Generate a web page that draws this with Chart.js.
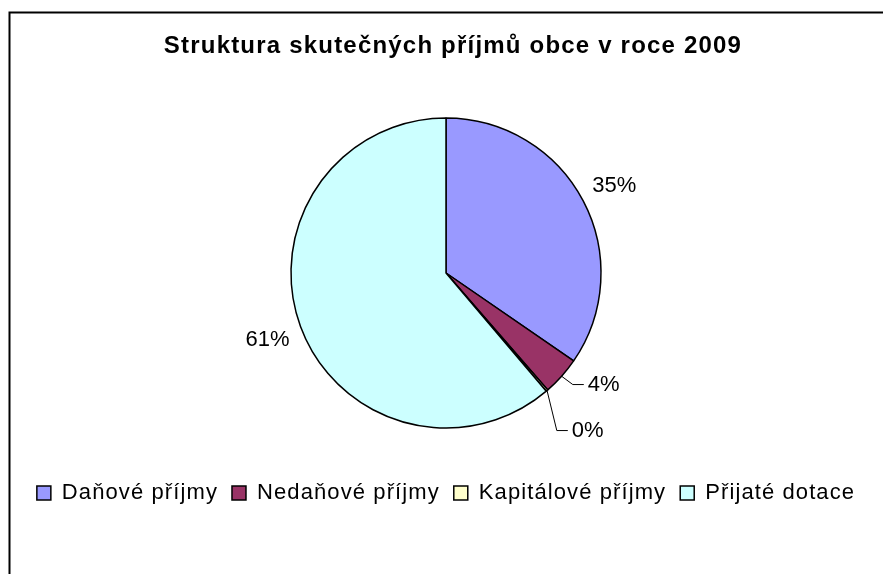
<!DOCTYPE html>
<html>
<head>
<meta charset="utf-8">
<script src="https://cdn.jsdelivr.net/npm/chart.js@4/dist/chart.umd.min.js"></script>
<style>
html,body{margin:0;padding:0;background:#fff;}
canvas{display:block;}
</style>
</head>
<body>
<canvas id="c" width="883" height="574"></canvas>
<script>
const chartTitle = 'Struktura skutečných příjmů obce v roce 2009';
const categories = ['Daňové příjmy', 'Nedaňové příjmy', 'Kapitálové příjmy', 'Přijaté dotace'];
const shares = [34.6, 4.0, 0.2, 61.2];

const FONT = '"Liberation Sans", Arial, sans-serif';

const spacingPlugin = {
  id: 'spacing',
  afterInit(chart) {
    const wrap = (box, sp, dx) => {
      if (!box || box.__wrapped) return;
      box.__wrapped = true;
      ['fit', 'draw'].forEach(m => {
        if (typeof box[m] !== 'function') return;
        const orig = box[m].bind(box);
        box[m] = function (...a) {
          const c = chart.ctx;
          c.save();
          c.letterSpacing = sp;
          if (m === 'draw' && dx) c.translate(dx, 0);
          try { return orig(...a); } finally { c.restore(); c.letterSpacing = '0px'; }
        };
      });
    };
    wrap(chart.legend, '1.1px', 0);
    wrap(chart.titleBlock, '1.2px', 7);
  }
};

const labelPlugin = {
  id: 'pieLabels',
  afterDatasetsDraw(chart) {
    const ctx = chart.ctx;
    const ds = chart.data.datasets[0];
    const total = ds.data.reduce((a, b) => a + b, 0);
    const meta = chart.getDatasetMeta(0);
    let lastY = -Infinity;
    ctx.save();
    ctx.font = '22px ' + FONT;
    ctx.fillStyle = '#000';
    ctx.strokeStyle = '#000';
    ctx.lineWidth = 1;
    meta.data.forEach((arc, i) => {
      const p = arc.getProps(['x', 'y', 'startAngle', 'endAngle', 'outerRadius'], true);
      const mid = (p.startAngle + p.endAngle) / 2;
      const frac = ds.data[i] / total;
      const txt = Math.round(frac * 100) + '%';
      const c = Math.cos(mid), s = Math.sin(mid);
      if (frac >= 0.1) {
        const r = p.outerRadius + 35;
        ctx.textAlign = 'center';
        ctx.textBaseline = 'middle';
        ctx.fillText(txt, p.x + c * r, p.y + s * r + 1);
      } else {
        const ex = p.x + c * p.outerRadius, ey = p.y + s * p.outerRadius;
        const kx = p.x + c * (p.outerRadius + 15);
        let ky = p.y + s * (p.outerRadius + 14) - 1;
        if (ky < lastY + 46) ky = lastY + 46;
        lastY = ky;
        ctx.beginPath();
        ctx.moveTo(ex, ey);
        ctx.lineTo(kx, ky);
        ctx.lineTo(kx + 11, ky);
        ctx.stroke();
        ctx.textAlign = 'left';
        ctx.textBaseline = 'middle';
        ctx.fillText(txt, kx + 15, ky);
      }
    });
    ctx.restore();
  }
};

const framePlugin = {
  id: 'frame',
  afterDraw(chart) {
    const ctx = chart.ctx;
    ctx.save();
    ctx.strokeStyle = '#000';
    ctx.lineWidth = 2;
    ctx.beginPath();
    ctx.moveTo(9.5, 574);
    ctx.lineTo(9.5, 12.5);
    ctx.lineTo(883, 12.5);
    ctx.stroke();
    ctx.restore();
  }
};

Chart.defaults.color = '#000';
Chart.defaults.font.family = FONT;

new Chart(document.getElementById('c'), {
  type: 'pie',
  data: {
    labels: categories,
    datasets: [{
      data: shares,
      backgroundColor: ['#9999FF', '#993366', '#FFFFCC', '#CCFFFF'],
      borderColor: '#000',
      borderWidth: 1.5,
      hoverOffset: 0,
      radius: 155
    }]
  },
  options: {
    responsive: false,
    devicePixelRatio: 1,
    animation: false,
    events: [],
    layout: { padding: { top: 20, left: 9, right: 0, bottom: 60 } },
    plugins: {
      title: {
        display: true,
        text: chartTitle,
        color: '#000',
        font: { size: 24, weight: 'bold', family: FONT, lineHeight: 1.2 },
        padding: { top: 11.6, bottom: 17.6 }
      },
      legend: {
        position: 'bottom',
        labels: {
          color: '#000',
          font: { size: 22, family: FONT },
          boxWidth: 14,
          boxHeight: 14,
          padding: 14
        }
      },
      tooltip: { enabled: false }
    }
  },
  plugins: [spacingPlugin, labelPlugin, framePlugin]
});
</script>
</body>
</html>
